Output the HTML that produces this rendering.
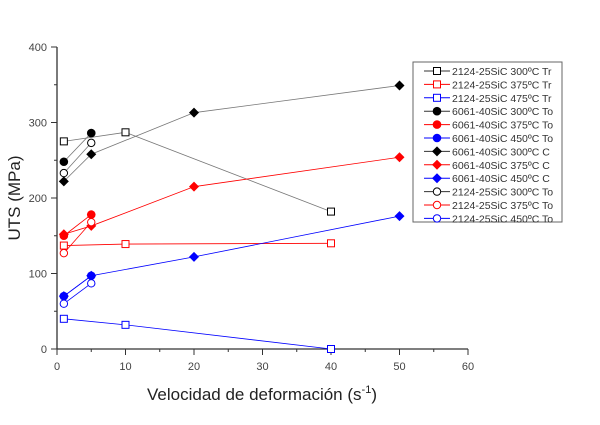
<!DOCTYPE html>
<html><head><meta charset="utf-8"><style>
body{margin:0;background:#fff;font-family:"Liberation Sans",sans-serif}
svg text{font-family:"Liberation Sans",sans-serif}
</style></head><body>
<svg id="c" width="600" height="420">
</svg>
<script>
const xTicks=[0,10,20,30,40,50,60];
const yTicks=[0,100,200,300,400];
const seriesNames=["2124-25SiC 300ºC Tr","2124-25SiC 375ºC Tr","2124-25SiC 475ºC Tr","6061-40SiC 300ºC To","6061-40SiC 375ºC To","6061-40SiC 450ºC To","6061-40SiC 300ºC C","6061-40SiC 375ºC C","6061-40SiC 450ºC C","2124-25SiC 300ºC To","2124-25SiC 375ºC To","2124-25SiC 450ºC To"];
const colors=["#000","#f00","#00f","#000","#f00","#00f","#000","#f00","#00f","#000","#f00","#00f"];
const markers=["sq","sq","sq","dot","dot","dot","dia","dia","dia","circ","circ","circ"];
const xs0=[1,10,40];
const s0=[275,287,182];
const s1=[137,139,140];
const s2=[40,32,0];
const xs3=[1,5];
const s3=[248,286];
const s4=[150,178];
const s5=[70,97];
const xs6=[1,5,20,50];
const s6=[222,258,313,349];
const s7=[152,163,215,254];
const s8=[70,97,122,176];
const s9=[233,273];
const s10=[127,168];
const s11=[60,87];
const xsets=[xs0,xs0,xs0,xs3,xs3,xs3,xs6,xs6,xs6,xs3,xs3,xs3];
const ys=[s0,s1,s2,s3,s4,s5,s6,s7,s8,s9,s10,s11];
const X=v=>57+v*(411/60), Y=v=>349-v*(302/400);
const svg=document.getElementById('c');const NS="http://www.w3.org/2000/svg";
function el(t,a,p){const e=document.createElementNS(NS,t);for(const k in a)e.setAttribute(k,a[k]);(p||svg).appendChild(e);return e;}
let e;
e=el('line',{x1:57,y1:47,x2:57,y2:349,stroke:'#333','stroke-width':1.3});


e=el('line',{x1:57,y1:349,x2:468,y2:349,stroke:'#333','stroke-width':1.3});


xTicks.forEach(v=>{el('line',{x1:X(v),y1:349,x2:X(v),y2:355,stroke:'#333'});if(v<60)el('line',{x1:X(v+5),y1:349,x2:X(v+5),y2:352,stroke:'#333'});
e=el('text',{x:X(v),y:370,'text-anchor':'middle','font-size':11,fill:'#444'});e.textContent=v;

});
yTicks.forEach(v=>{el('line',{x1:51,y1:Y(v),x2:57,y2:Y(v),stroke:'#333'});if(v<400)el('line',{x1:54,y1:Y(v+50),x2:57,y2:Y(v+50),stroke:'#333'});
e=el('text',{x:47,y:Y(v)+4,'text-anchor':'end','font-size':11,fill:'#444'});e.textContent=v;

});
e=el('text',{x:262,y:400,'text-anchor':'middle','font-size':17,fill:'#222'});e.innerHTML='Velocidad de deformación (s<tspan dy="-7" font-size="11">-1</tspan><tspan dy="7">)</tspan>';


e=el('text',{x:20,y:198,'text-anchor':'middle','font-size':17,fill:'#222',transform:'rotate(-90 20 198)'});e.textContent='UTS (MPa)';


function mark(m,x,y,c,g){if(m=='sq')return el('rect',{x:x-3.5,y:y-3.5,width:7,height:7,fill:'#fff',stroke:c},g);
if(m=='circ')return el('circle',{cx:x,cy:y,r:3.7,fill:'#fff',stroke:c},g);
if(m=='dot')return el('circle',{cx:x,cy:y,r:4.3,fill:c},g);
return el('polygon',{points:`${x},${y-5} ${x+5},${y} ${x},${y+5} ${x-5},${y}`,fill:c},g);}
ys.forEach((s,i)=>{const g=el('g',{});


const lc=colors[i]=='#000'?'#777':colors[i];
el('polyline',{points:s.map((v,j)=>X(xsets[i][j])+','+Y(v)).join(' '),fill:'none',stroke:lc,'stroke-width':0.8},g);
s.forEach((v,j)=>{const m=mark(markers[i],X(xsets[i][j]),Y(v),colors[i],g);

});});
const lg=el('g',{});


el('rect',{x:413,y:62,width:149,height:160,fill:'#fff',stroke:'#666'},lg);
seriesNames.forEach((n,i)=>{const y=71+i*13.4;const g=el('g',{},lg);


const lc=colors[i]=='#000'?'#333':colors[i];
el('line',{x1:424,y1:y,x2:450,y2:y,stroke:lc},g);mark(markers[i],437,y,colors[i],g);
const t=el('text',{x:452,y:y+4,'font-size':10.5,fill:'#333'},g);t.textContent=n;});
</script>
</body></html>
